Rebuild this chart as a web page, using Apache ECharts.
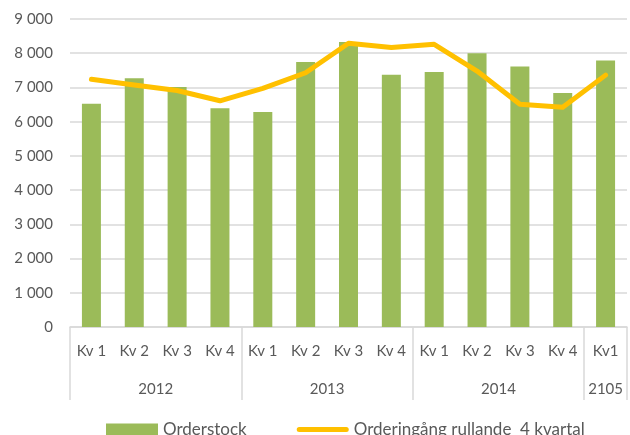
<!DOCTYPE html>
<html>
<head>
<meta charset="utf-8">
<script src="https://cdn.jsdelivr.net/npm/echarts@6/dist/echarts.min.js"></script>
<style>
  html, body { margin: 0; padding: 0; background: #fff; }
  #chart { width: 630px; height: 435px; }
</style>
</head>
<body>
<div id="chart"></div>
<script>
// quarters and the year each belongs to
var quarters = ['Kv 1', 'Kv 2', 'Kv 3', 'Kv 4', 'Kv 1', 'Kv 2', 'Kv 3', 'Kv 4', 'Kv 1', 'Kv 2', 'Kv 3', 'Kv 4', 'Kv1'];
var years = ['2012', '2013', '2014', '2105'];
var yearSizes = [4, 4, 4, 1];

var orderstock = [6520, 7270, 7010, 6390, 6280, 7740, 8330, 7370, 7450, 8000, 7610, 6840, 7790];
var orderingang = [7240, 7070, 6910, 6610, 6970, 7430, 8290, 8170, 8260, 7480, 6510, 6420, 7360];

var textColor = '#595959';
var font = 'Lato';

// second level axis runs on half-categories so year labels can sit in the middle of a group
var halfCats = [];
var boundaries = {};
var pos = 0;
for (var i = 0; i <= quarters.length * 2; i++) halfCats.push('');
for (var g = 0; g < years.length; g++) {
    boundaries[pos * 2] = true;
    halfCats[pos * 2 + yearSizes[g]] = years[g];
    pos += yearSizes[g];
}
boundaries[pos * 2] = true;

// thick line with round ends for the legend
var lineIcon = 'path://M2.5,0 L49.5,0 A2.5,2.5 0 0 1 49.5,5 L2.5,5 A2.5,2.5 0 0 1 2.5,0 Z';

var chart = echarts.init(document.getElementById('chart'));

var option = {
    animation: false,
    textStyle: { fontFamily: font },
    grid: { left: 70, right: -3, top: 19, bottom: 108 },
    legend: {
        left: 106,
        top: 421,
        padding: 0,
        itemGap: 50,
        itemWidth: 52,
        itemHeight: 12,
        textStyle: { color: textColor, fontSize: 17, fontFamily: font },
        data: [
            { name: 'Orderstock', icon: 'rect' },
            { name: 'Orderingång rullande  4 kvartal', icon: lineIcon }
        ]
    },
    xAxis: [
        {
            type: 'category',
            data: quarters,
            axisLine: { lineStyle: { color: '#D9D9D9', width: 1.5 } },
            axisTick: { show: false },
            axisLabel: { color: textColor, fontSize: 15, margin: 17, interval: 0 }
        },
        {
            type: 'category',
            position: 'bottom',
            offset: 73,
            boundaryGap: false,
            data: halfCats,
            axisLine: { show: false },
            axisTick: {
                show: true,
                inside: true,
                length: 73,
                interval: function (idx) { return !!boundaries[idx]; },
                lineStyle: { color: '#D9D9D9', width: 1.5 }
            },
            axisLabel: {
                inside: true,
                interval: 0,
                color: textColor,
                fontSize: 15,
                margin: 3
            }
        }
    ],
    yAxis: {
        type: 'value',
        min: 0,
        max: 9000,
        interval: 1000,
        axisLine: { show: false },
        axisTick: { show: false },
        splitLine: { lineStyle: { color: '#D9D9D9', width: 1.5 } },
        axisLabel: {
            color: textColor,
            fontSize: 15,
            margin: 17,
            formatter: function (v) {
                return String(v).replace(/\B(?=(\d{3})+(?!\d))/g, ' ');
            }
        }
    },
    series: [
        {
            name: 'Orderstock',
            type: 'bar',
            data: orderstock,
            barWidth: 19,
            itemStyle: { color: '#9BBB59' }
        },
        {
            name: 'Orderingång rullande  4 kvartal',
            type: 'line',
            data: orderingang,
            symbol: 'none',
            lineStyle: { color: '#FFC000', width: 5, cap: 'round', join: 'round' },
            itemStyle: { color: '#FFC000' }
        }
    ]
};

chart.setOption(option);
</script>
</body>
</html>
